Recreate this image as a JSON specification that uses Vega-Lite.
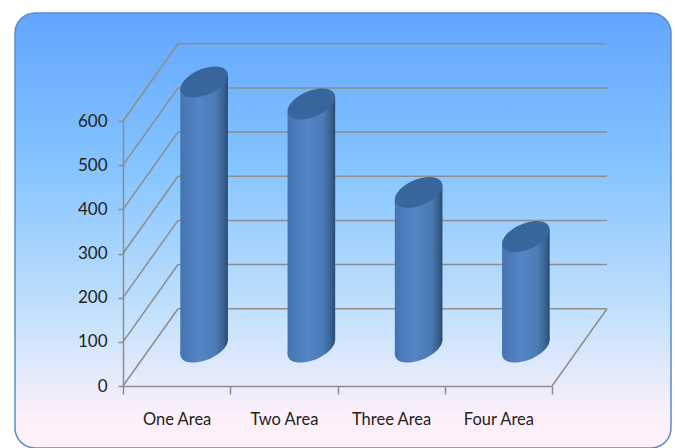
{
  "$schema": "https://vega.github.io/schema/vega-lite/v6.json",
  "width": 656,
  "height": 435,
  "autosize": "none",
  "padding": {"left": 15, "top": 13, "right": 4, "bottom": 0},
  "background": "#ffffff",
  "view": {
    "cornerRadius": 20,
    "stroke": "#5f8cc0",
    "strokeWidth": 1.5,
    "fill": {
      "gradient": "linear", "x1": 0, "y1": 0, "x2": 0, "y2": 1,
      "stops": [
        {"offset": 0, "color": "#62a5fd"},
        {"offset": 0.35, "color": "#84c4ff"},
        {"offset": 0.7, "color": "#c4e2fc"},
        {"offset": 0.93, "color": "#fdf0fa"},
        {"offset": 1, "color": "#fff0fa"}
      ]
    }
  },
  "datasets": {
    "areas": [
      {"area": "One Area", "value": 600},
      {"area": "Two Area", "value": 550},
      {"area": "Three Area", "value": 350},
      {"area": "Four Area", "value": 250}
    ],
    "cylinderSides": [
      {"area": "One Area", "pos": 0.278, "base": -16, "top": 584},
      {"area": "One Area", "pos": 0.722, "base": 16, "top": 616},
      {"area": "Two Area", "pos": 1.278, "base": -16, "top": 534},
      {"area": "Two Area", "pos": 1.722, "base": 16, "top": 566},
      {"area": "Three Area", "pos": 2.278, "base": -16, "top": 334},
      {"area": "Three Area", "pos": 2.722, "base": 16, "top": 366},
      {"area": "Four Area", "pos": 3.278, "base": -16, "top": 234},
      {"area": "Four Area", "pos": 3.722, "base": 16, "top": 266}
    ],
    "walls": [
      {"from": 0.513, "to": 4.513, "level": 175, "levelEnd": 175},
      {"from": 0.513, "to": 4.513, "level": 275, "levelEnd": 275},
      {"from": 0.513, "to": 4.513, "level": 375, "levelEnd": 375},
      {"from": 0.513, "to": 4.513, "level": 475, "levelEnd": 475},
      {"from": 0.513, "to": 4.513, "level": 575, "levelEnd": 575},
      {"from": 0.513, "to": 4.513, "level": 675, "levelEnd": 675},
      {"from": 0.513, "to": 4.513, "level": 775, "levelEnd": 775},
      {"from": 0, "to": 0.513, "level": 0, "levelEnd": 175},
      {"from": 0, "to": 0.513, "level": 100, "levelEnd": 275},
      {"from": 0, "to": 0.513, "level": 200, "levelEnd": 375},
      {"from": 0, "to": 0.513, "level": 300, "levelEnd": 475},
      {"from": 0, "to": 0.513, "level": 400, "levelEnd": 575},
      {"from": 0, "to": 0.513, "level": 500, "levelEnd": 675},
      {"from": 0, "to": 0.513, "level": 600, "levelEnd": 775},
      {"from": 4, "to": 4.513, "level": 0, "levelEnd": 175}
    ]
  },
  "resolve": {"scale": {"x": "independent", "y": "independent"}},
  "layer": [
    {
      "data": {"name": "walls"},
      "mark": {"type": "rule", "color": "#8d8d8d", "strokeWidth": 1.5},
      "encoding": {
        "x": {"field": "from", "type": "quantitative", "axis": null,
              "scale": {"domain": [0, 4], "range": [108, 537], "nice": false, "zero": false}},
        "x2": {"field": "to"},
        "y": {"field": "level", "type": "quantitative", "axis": null,
              "scale": {"domain": [0, 600], "range": [373, 108], "nice": false}},
        "y2": {"field": "levelEnd"}
      }
    },
    {
      "data": {"name": "areas"},
      "mark": {"type": "point", "opacity": 0},
      "encoding": {
        "x": {"field": "area", "type": "nominal", "sort": null, "title": null,
              "scale": {"range": [108, 537], "paddingInner": 0, "paddingOuter": 0},
              "axis": {"orient": "bottom", "offset": -62, "tickBand": "extent", "labelAngle": 0,
                       "domainColor": "#8d8d8d", "domainWidth": 1.5, "tickColor": "#8d8d8d", "tickWidth": 1.5, "tickSize": 8,
                       "labelFont": "Lato", "labelFontSize": 16.5, "labelColor": "#222222", "labelPadding": 17}},
        "y": {"field": "value", "type": "quantitative", "title": null,
              "scale": {"domain": [0, 600], "range": [373, 108], "nice": false},
              "axis": {"orient": "left", "offset": -108, "values": [0, 100, 200, 300, 400, 500, 600], "grid": false,
                       "domainColor": "#8d8d8d", "domainWidth": 1.5, "tickColor": "#8d8d8d", "tickWidth": 1.5, "tickSize": 5,
                       "labelFont": "Lato", "labelFontSize": 17, "labelColor": "#222222", "labelPadding": 11}}
      }
    },
    {
      "data": {"name": "areas"},
      "mark": {
        "type": "point", "filled": true, "size": 2256, "opacity": 1,
        "shape": "M1 -.3C1 -.62 .552 -.746 0 -.58C-.552 -.414 -1 -.02 -1 .3C-1 .62 -.552 .746 0 .58C.552 .414 1 .02 1 -.3Z",
        "color": {
          "gradient": "linear", "x1": 0, "y1": 0, "x2": 1, "y2": 0,
          "stops": [
            {"offset": 0, "color": "#4474b0"},
            {"offset": 0.4, "color": "#5585c6"},
            {"offset": 0.75, "color": "#4a7bb4"},
            {"offset": 0.92, "color": "#36608f"},
            {"offset": 1, "color": "#2a4a70"}
          ]
        }
      },
      "encoding": {
        "x": {"field": "area", "type": "nominal", "sort": null, "axis": null,
              "scale": {"range": [135.5, 564.5], "paddingInner": 0, "paddingOuter": 0}},
        "y": {"datum": 0, "type": "quantitative", "axis": null,
              "scale": {"domain": [0, 600], "range": [334, 69], "nice": false}}
      }
    },
    {
      "data": {"name": "cylinderSides"},
      "mark": {
        "type": "area", "opacity": 1,
        "color": {
          "gradient": "linear", "x1": 0, "y1": 0, "x2": 1, "y2": 0,
          "stops": [
            {"offset": 0, "color": "#4474b0"},
            {"offset": 0.4, "color": "#5585c6"},
            {"offset": 0.75, "color": "#4a7bb4"},
            {"offset": 0.92, "color": "#36608f"},
            {"offset": 1, "color": "#2a4a70"}
          ]
        }
      },
      "encoding": {
        "x": {"field": "pos", "type": "quantitative", "axis": null,
              "scale": {"domain": [0, 4], "range": [135.5, 564.5], "nice": false, "zero": false}},
        "y": {"field": "top", "type": "quantitative", "axis": null, "stack": null,
              "scale": {"domain": [0, 600], "range": [334, 69], "nice": false}},
        "y2": {"field": "base"},
        "detail": {"field": "area", "type": "nominal"}
      }
    },
    {
      "data": {"name": "areas"},
      "mark": {
        "type": "point", "filled": true, "size": 2256, "opacity": 1, "color": "#38659b",
        "shape": "M1 -.3C1 -.62 .552 -.746 0 -.58C-.552 -.414 -1 -.02 -1 .3C-1 .62 -.552 .746 0 .58C.552 .414 1 .02 1 -.3Z"
      },
      "encoding": {
        "x": {"field": "area", "type": "nominal", "sort": null, "axis": null,
              "scale": {"range": [135.5, 564.5], "paddingInner": 0, "paddingOuter": 0}},
        "y": {"field": "value", "type": "quantitative", "axis": null,
              "scale": {"domain": [0, 600], "range": [334, 69], "nice": false}}
      }
    }
  ]
}
